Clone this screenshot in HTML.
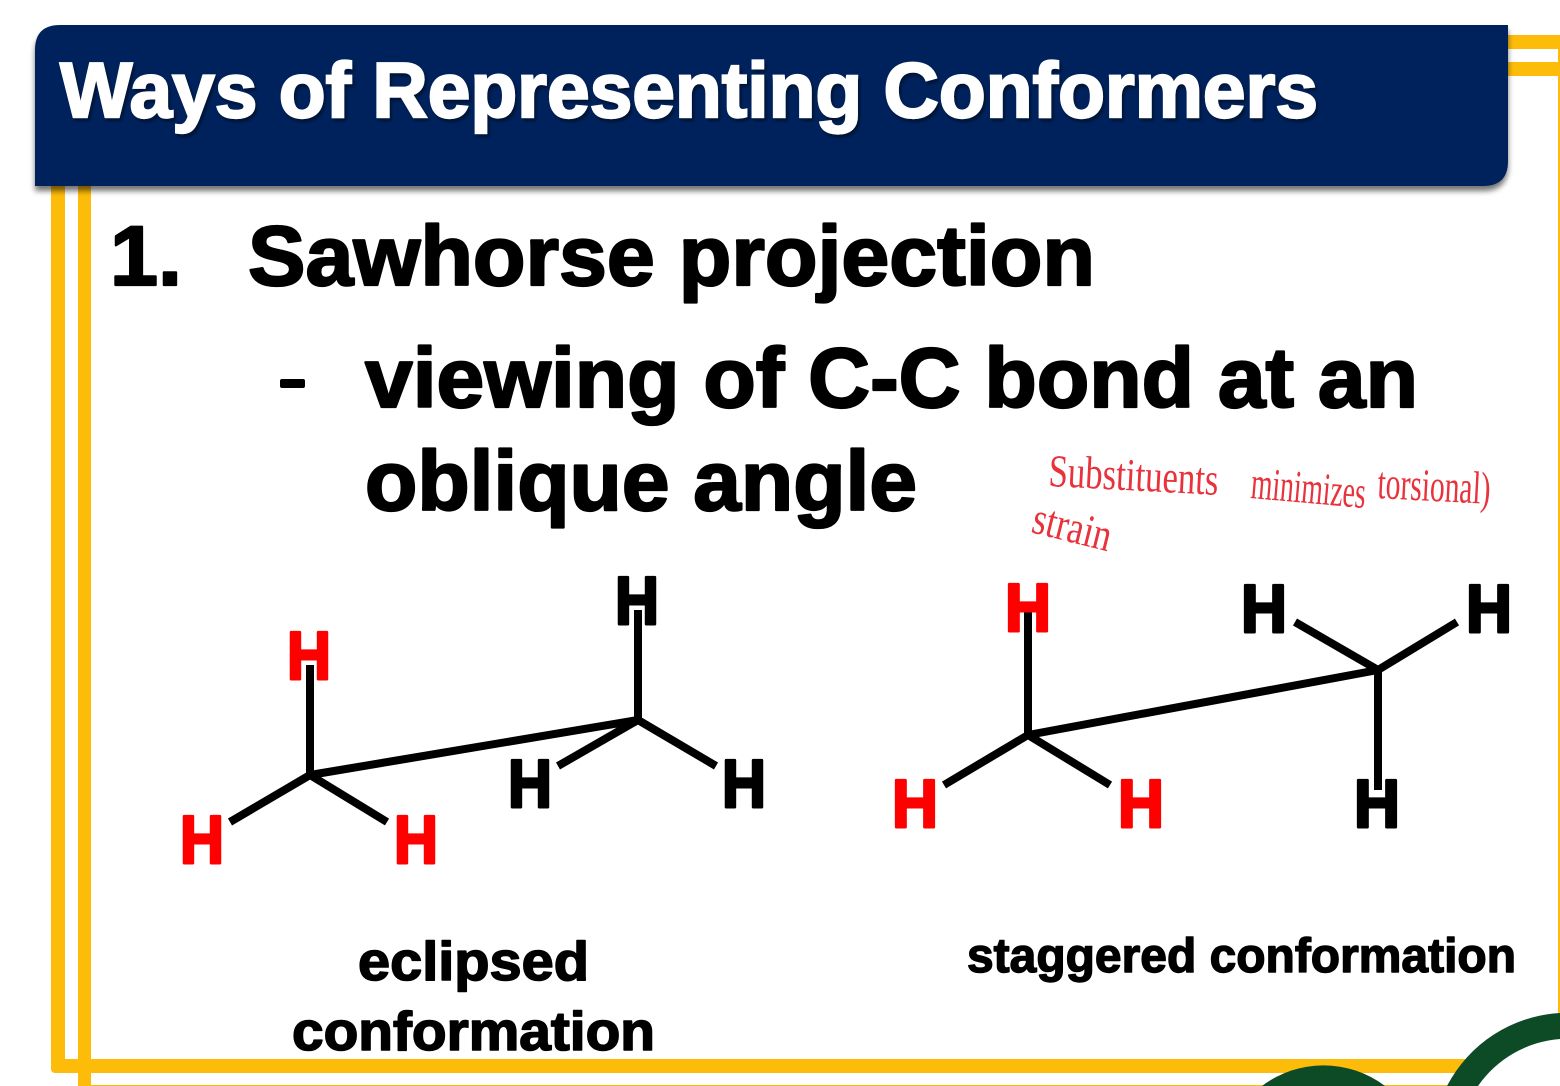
<!DOCTYPE html>
<html><head><meta charset="utf-8"><title>Ways of Representing Conformers</title>
<style>html,body{margin:0;padding:0;background:#fff;width:1560px;height:1086px;overflow:hidden}svg{display:block}
text{font-family:"Liberation Sans",Arial,sans-serif;font-weight:700}
.k{fill:#000;stroke:#000;stroke-width:2.2px;stroke-linejoin:round}
.r{fill:#fe0000;stroke:#fe0000;stroke-width:3px;stroke-linejoin:round}
.h{fill:#000;stroke:#000;stroke-width:3px;stroke-linejoin:round}
.ink{font-family:"Liberation Serif",serif;font-weight:400;fill:#e8323c;font-size:46px}
</style></head><body>
<svg width="1560" height="1086" viewBox="0 0 1560 1086" xmlns="http://www.w3.org/2000/svg">
<defs>
<filter id="sh" x="-5%" y="-10%" width="110%" height="125%"><feGaussianBlur in="SourceAlpha" stdDeviation="3"/><feOffset dx="0" dy="5"/><feComponentTransfer><feFuncA type="linear" slope=".55"/></feComponentTransfer><feMerge><feMergeNode/><feMergeNode in="SourceGraphic"/></feMerge></filter>
<filter id="ts" x="-2%" y="-10%" width="104%" height="125%"><feGaussianBlur in="SourceAlpha" stdDeviation="1.5"/><feOffset dx="2" dy="3"/><feComponentTransfer><feFuncA type="linear" slope=".45"/></feComponentTransfer><feMerge><feMergeNode/><feMergeNode in="SourceGraphic"/></feMerge></filter>
</defs>
<rect width="1560" height="1086" fill="#fff"/>
<g fill="#fdbc0a">
<rect x="1500" y="35" width="60" height="14"/>
<rect x="1500" y="62" width="60" height="14"/>
<rect x="1558" y="49" width="2" height="970"/>
<rect x="51" y="180" width="14" height="885"/>
<rect x="78" y="180" width="13" height="906"/>
<rect x="51" y="1059" width="1420" height="14" rx="4"/>
<rect x="78" y="1085" width="1380" height="1"/>
</g>
<path d="M1262 1086A102 102 0 0 1 1385 1086Z" fill="#0d4a26"/>
<path d="M1447 1086A136 136 0 0 1 1560 1013V1039A110 110 0 0 0 1478 1086Z" fill="#0d4a26"/>
<path d="M60 25H1508V161Q1508 186 1483 186H35V50Q35 25 60 25Z" fill="#00205b" filter="url(#sh)"/>
<text x="60" y="117" font-size="78" fill="#fff" stroke="#fff" stroke-width="2.2" textLength="1258" lengthAdjust="spacingAndGlyphs" filter="url(#ts)">Ways of Representing Conformers</text>

<text class="k" x="110" y="285" font-size="84" textLength="72" lengthAdjust="spacingAndGlyphs">1.</text>
<text class="k" x="248" y="285" font-size="84" textLength="847" lengthAdjust="spacingAndGlyphs">Sawhorse projection</text>
<rect x="280" y="379" width="25" height="9" rx="2" fill="#000"/>
<text class="k" x="365" y="407" font-size="84" textLength="1053" lengthAdjust="spacingAndGlyphs">viewing of C-C bond at an</text>
<text class="k" x="365" y="510" font-size="84" textLength="552" lengthAdjust="spacingAndGlyphs">oblique angle</text>

<text class="ink" x="1048" y="486" textLength="170" lengthAdjust="spacingAndGlyphs" transform="rotate(3 1048 486)">Substituents</text>
<text class="ink" x="1250" y="498" textLength="115" lengthAdjust="spacingAndGlyphs" transform="rotate(5 1250 498)">minimizes</text>
<text class="ink" x="1377" y="498" textLength="113" lengthAdjust="spacingAndGlyphs" transform="rotate(3 1377 498)">torsional)</text>
<text class="ink" x="1030" y="532" textLength="80" lengthAdjust="spacingAndGlyphs" transform="rotate(14 1030 532)">strain</text>

<g stroke="#000" stroke-width="8" fill="none">
<path d="M310 775L638 720M310 665V775M310 775L230 822M310 775L387 822M638 610V720M638 720L558 766M638 720L716 766"/>
<path d="M1028 735L1378 670M1028 610V735M1028 735L944 785M1028 735L1110 785M1378 670L1295 622M1378 670L1457 622M1378 670V790"/>
</g>

<g font-size="68">
<text class="r" x="287" y="679" textLength="44" lengthAdjust="spacingAndGlyphs">H</text>
<text class="r" x="180" y="863" textLength="44" lengthAdjust="spacingAndGlyphs">H</text>
<text class="r" x="394" y="863" textLength="44" lengthAdjust="spacingAndGlyphs">H</text>
<text class="h" x="615" y="624" textLength="44" lengthAdjust="spacingAndGlyphs">H</text>
<text class="h" x="508" y="807" textLength="44" lengthAdjust="spacingAndGlyphs">H</text>
<text class="h" x="722" y="807" textLength="44" lengthAdjust="spacingAndGlyphs">H</text>
<text class="r" x="1005" y="631" textLength="46" lengthAdjust="spacingAndGlyphs">H</text>
<text class="h" x="1241" y="632" textLength="46" lengthAdjust="spacingAndGlyphs">H</text>
<text class="h" x="1466" y="632" textLength="46" lengthAdjust="spacingAndGlyphs">H</text>
<text class="r" x="892" y="827" textLength="46" lengthAdjust="spacingAndGlyphs">H</text>
<text class="r" x="1118" y="827" textLength="46" lengthAdjust="spacingAndGlyphs">H</text>
<text class="h" x="1354" y="827" textLength="46" lengthAdjust="spacingAndGlyphs">H</text>
</g>

<text class="k" style="stroke-width:1.6px" x="358" y="980" font-size="55" textLength="231" lengthAdjust="spacingAndGlyphs">eclipsed</text>
<text class="k" style="stroke-width:1.6px" x="292" y="1050" font-size="55" textLength="363" lengthAdjust="spacingAndGlyphs">conformation</text>
<text class="k" style="stroke-width:1.4px" x="967" y="972" font-size="48" textLength="549" lengthAdjust="spacingAndGlyphs">staggered conformation</text>
</svg>
</body></html>
